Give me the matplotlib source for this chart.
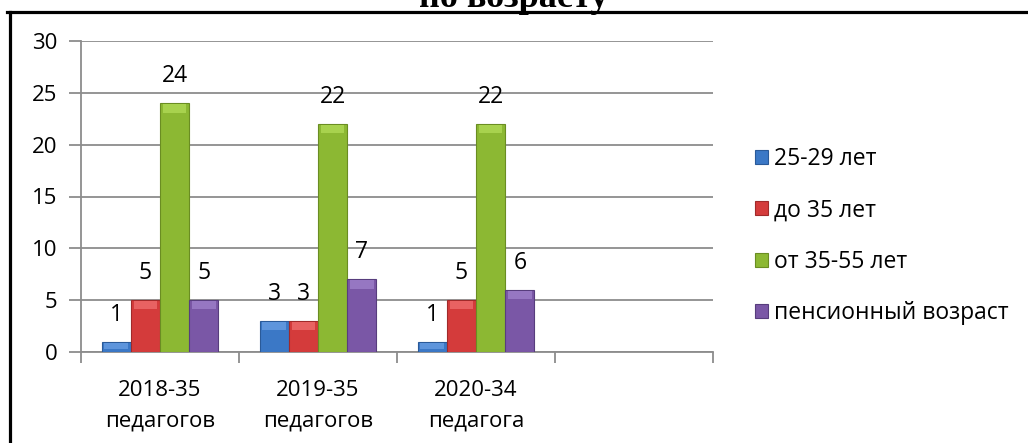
import numpy as np
from matplotlib import pyplot as plt
from matplotlib.lines import Line2D

# Chart data
categories = ['2018-35\nпедагогов', '2019-35\nпедагогов', '2020-34\nпедагога', '']
series_names = ['25-29 лет', 'до 35 лет', 'от 35-55 лет', 'пенсионный возраст']
age_25_29 = [1, 3, 1]
under_35 = [5, 3, 5]
age_35_55 = [24, 22, 22]
pension = [5, 7, 6]
y_ticks = [0, 5, 10, 15, 20, 25, 30]

series = [age_25_29, under_35, age_35_55, pension]
colors = ['#3b78c6', '#d43b3b', '#8cb833', '#7a57a6']
edges = ['#2a5a99', '#a02a2a', '#6a8d22', '#573d7d']
caps = ['#5e95dc', '#e86262', '#a8d24e', '#9677c2']

plt.rcParams['font.family'] = ['Open Sans', 'DejaVu Sans']

fig = plt.figure(figsize=(10.28, 4.43), dpi=100)
ax = fig.add_axes([81 / 1028, 1 - 352 / 443, (713 - 81) / 1028, (352 - 41) / 443])

width = 0.185
x = np.arange(len(age_25_29))
for i, (vals, name) in enumerate(zip(series, series_names)):
    pos = x + (i - 1.5) * width
    ax.bar(pos, vals, width, color=colors[i], edgecolor=edges[i],
           linewidth=0.8, label=name, zorder=3)
    # lighter bevel on top of each bar
    cap = np.minimum(np.array(vals, dtype=float) * 0.6, 0.8)
    ax.bar(pos, cap, width * 0.8, bottom=np.array(vals) - cap - 0.1,
           color=caps[i], linewidth=0, zorder=4)
    for p, v in zip(pos, vals):
        ax.annotate(str(v), (p, v), xytext=(0, 19.5), textcoords='offset points',
                    ha='center', va='center', fontsize=16.5, color='black')

# Axes formatting
ax.set_xlim(-0.5, len(categories) - 0.5)
ax.set_ylim(0, 30)
ax.set_yticks(y_ticks)
ax.set_xticks(np.arange(len(categories) + 1) - 0.5)
ax.set_xticklabels([])
ax.set_xticks(np.arange(len(categories)), minor=True)
ax.set_xticklabels(categories, minor=True, fontsize=16, linespacing=1.6)
ax.tick_params(axis='x', which='minor', length=0, pad=20)
ax.tick_params(axis='x', which='major', length=8, color='#8c8c8c', width=1.3)
ax.tick_params(axis='y', length=9, color='#8c8c8c', width=1.3, labelsize=16, pad=8)
ax.yaxis.grid(True, color='#8c8c8c', linewidth=1.3, zorder=0)
ax.set_axisbelow(True)
for side in ['top', 'right']:
    ax.spines[side].set_visible(False)
for side in ['left', 'bottom']:
    ax.spines[side].set_color('#8c8c8c')
    ax.spines[side].set_linewidth(1.3)

fig.legend(loc='center left', bbox_to_anchor=(744 / 1028, 1 - 236 / 443),
           frameon=False, fontsize=16.5, handlelength=0.55, handleheight=0.55,
           handletextpad=0.25, labelspacing=1.2, borderpad=0)

# Title, cut off at the top as in the source
fig.text(0.5, 1 - 7 / 443, 'по возрасту', ha='center', va='baseline',
         fontsize=26, fontweight='bold', family='Liberation Serif')

# Black frame lines (top and left)
fig.add_artist(Line2D([7 / 1028, 1], [1 - 12 / 443, 1 - 12 / 443],
                      transform=fig.transFigure, color='black', linewidth=2.3))
fig.add_artist(Line2D([10 / 1028, 10 / 1028], [0, 1 - 12 / 443],
                      transform=fig.transFigure, color='black', linewidth=2.3))

fig.savefig('out.png', dpi=100)
